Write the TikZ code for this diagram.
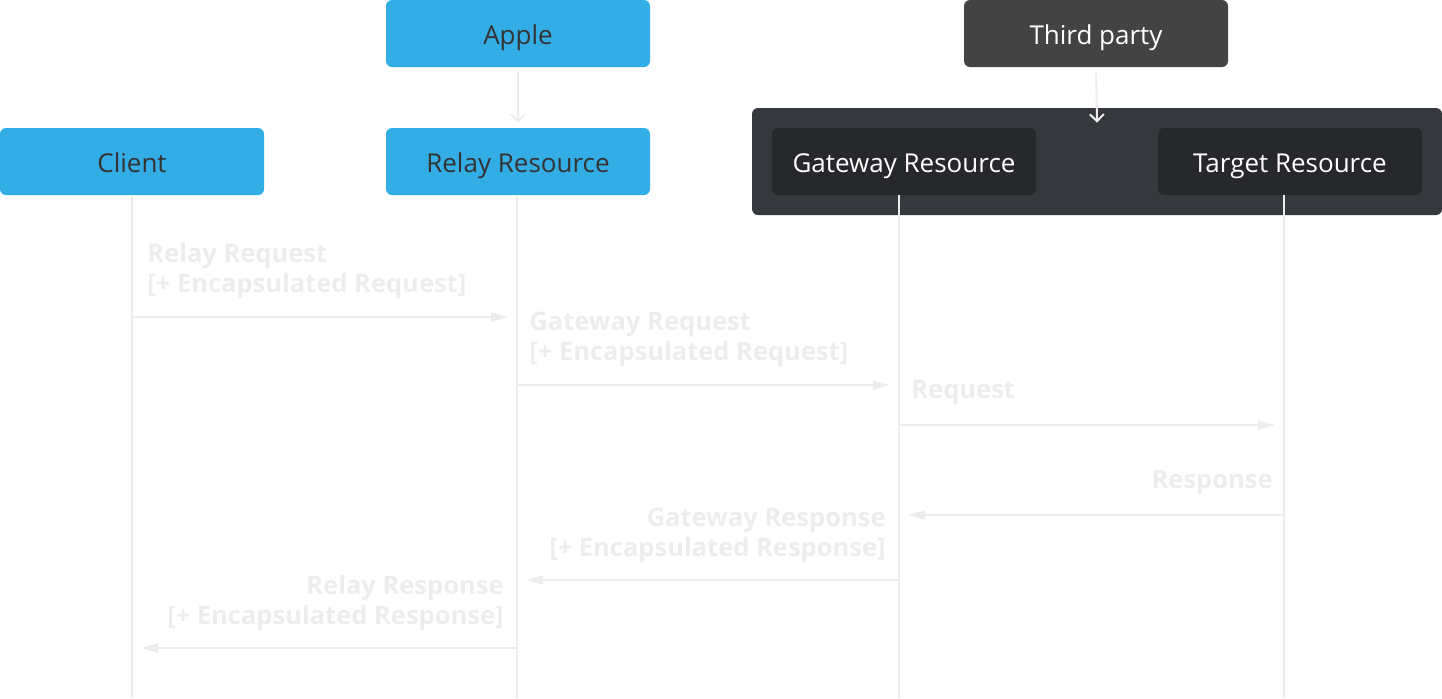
\documentclass[tikz,border=0pt]{standalone}
\usepackage{fontspec}
\setmainfont{Open Sans}
\usepackage{tikz}
\usetikzlibrary{arrows.meta}
\usetikzlibrary{positioning}
\definecolor{appleblue}{HTML}{33ADE5}
\definecolor{boxtext}{HTML}{333333}
\definecolor{thirdgray}{HTML}{434343}
\definecolor{panelgray}{HTML}{35383C}
\definecolor{innerdark}{HTML}{26282B}
\definecolor{faint}{HTML}{EDEDED}
\tikzstyle{actor}=[rectangle,rounded corners=3pt,minimum width=132pt,minimum height=33.5pt,inner sep=0pt,text height=10.5pt,text depth=0pt,font=\fontsize{13}{15}\selectfont]
\tikzstyle{bluebox}=[actor,fill=appleblue,text=boxtext]
\tikzstyle{greybox}=[actor,fill=thirdgray,text=white]
\tikzstyle{darkbox}=[actor,fill=innerdark,text=white]
\tikzstyle{panel}=[rectangle,rounded corners=3pt,fill=panelgray,minimum width=345pt,minimum height=53.5pt,inner sep=0pt]
\tikzstyle{lifeline}=[draw,faint,line width=1pt]
\tikzstyle{msg}=[draw,faint,line width=1pt,-{Triangle[length=8.5pt,width=4.5pt]},shorten >=4.5pt]
\tikzstyle{owner}=[draw,faint,line width=1pt,-{Straight Barb[length=3.5pt,width=7pt]},shorten <=2.5pt]
\tikzstyle{msglabel}=[inner sep=0pt,text=faint,font=\bfseries\fontsize{12.75}{15}\selectfont]

\begin{document}
\begin{tikzpicture}[x=0.5pt,y=-0.5pt]

  \useasboundingbox (0,0) rectangle (1442,698);

  \node[panel] (tp) at (1097,161.5) {};

   \foreach \x/\y/\name/\label in {518/33.5/apple/Apple, 132/161.5/client/Client, 518/161.5/relay/Relay Resource}
          \node[bluebox] (\name) at (\x,\y) {\label};

   \node[greybox] (third) at (1096,33.5) {Third party};

   \foreach \x/\y/\name/\label in {904/161.5/gateway/Gateway Resource, 1290/161.5/target/Target Resource}
          \node[darkbox] (\name) at (\x,\y) {\label};

  % lifelines
   \foreach \name/\x in {client/132, relay/517, gateway/899, target/1284}
   {
          \coordinate (\name L) at (\x,195);
          \coordinate (\name B) at (\x,698);
          \path[lifeline] (\name L) -- (\name B);
   }

  \path[owner,shorten >=2.5pt] (apple) -- (relay);
  \path[owner] (third.south) -- ([yshift=-7.5pt]tp.north);

  % messages
  \foreach \source/\dest/\y in {clientL/relayL/317, relayL/gatewayL/385, gatewayL/targetL/425, targetL/gatewayL/515, gatewayL/relayL/580, relayL/clientL/648}
         \path[msg] (\source |- 0,\y) -- (\dest |- 0,\y);

  \foreach \x/\y/\name/\label in {147/292/reqrelay/{Relay Request\\{}[+ Encapsulated Request]}, 529/360/reqgw/{Gateway Request\\{}[+ Encapsulated Request]}, 911/398/reqtarget/{Request}}
         \node[msglabel,align=left,anchor=base west] (\name) at (\x,\y) {\label};

  \foreach \x/\y/\name/\label in {1273/488/resptarget/{Response}, 886/556/respgw/{Gateway Response\\{}[+ Encapsulated Response]}, 504/624/resprelay/{Relay Response\\{}[+ Encapsulated Response]}}
         \node[msglabel,align=right,anchor=base east] (\name) at (\x,\y) {\label};

\end{tikzpicture}
\end{document}
